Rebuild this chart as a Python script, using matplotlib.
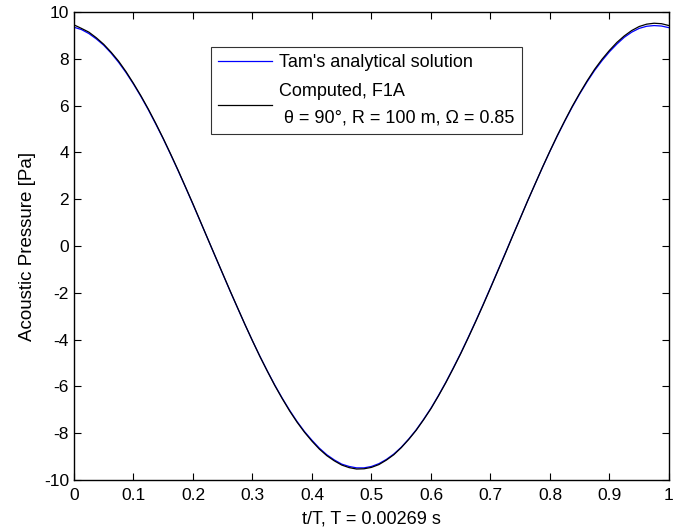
import matplotlib
matplotlib.use("Agg")
import matplotlib.pyplot as plt

plt.rcParams['font.family'] = ['Liberation Sans', 'DejaVu Sans']
plt.rcParams['axes.unicode_minus'] = False

t_vals = [0.0, 0.0125, 0.025, 0.0375, 0.05, 0.0625, 0.075, 0.0875, 0.1, 0.1125,
          0.125, 0.1375, 0.15, 0.1625, 0.175, 0.1875, 0.2, 0.2125, 0.225, 0.2375,
          0.25, 0.2625, 0.275, 0.2875, 0.3, 0.3125, 0.325, 0.3375, 0.35, 0.3625,
          0.375, 0.3875, 0.4, 0.4125, 0.425, 0.4375, 0.45, 0.4625, 0.475, 0.4875,
          0.5, 0.5125, 0.525, 0.5375, 0.55, 0.5625, 0.575, 0.5875, 0.6, 0.6125,
          0.625, 0.6375, 0.65, 0.6625, 0.675, 0.6875, 0.7, 0.7125, 0.725, 0.7375,
          0.75, 0.7625, 0.775, 0.7875, 0.8, 0.8125, 0.825, 0.8375, 0.85, 0.8625,
          0.875, 0.8875, 0.9, 0.9125, 0.925, 0.9375, 0.95, 0.9625, 0.975, 0.9875,
          1.0]

tam_vals = [9.35, 9.25, 9.08, 8.85, 8.58, 8.24, 7.85, 7.41, 6.92, 6.39,
            5.82, 5.21, 4.58, 3.91, 3.22, 2.51, 1.78, 1.04, 0.30, -0.45,
            -1.19, -1.93, -2.65, -3.36, -4.05, -4.71, -5.34, -5.94, -6.50, -7.02,
            -7.50, -7.93, -8.30, -8.64, -8.92, -9.14, -9.32, -9.42, -9.48, -9.48,
            -9.42, -9.30, -9.12, -8.89, -8.60, -8.25, -7.86, -7.41, -6.93, -6.39,
            -5.82, -5.21, -4.58, -3.91, -3.22, -2.51, -1.78, -1.04, -0.30, 0.45,
            1.19, 1.93, 2.65, 3.36, 4.05, 4.71, 5.34, 5.94, 6.50, 7.02,
            7.50, 7.92, 8.30, 8.63, 8.92, 9.14, 9.30, 9.39, 9.42, 9.40,
            9.33]

computed_vals = [9.45, 9.30, 9.14, 8.90, 8.62, 8.28, 7.90, 7.45, 6.95, 6.42,
                 5.85, 5.24, 4.60, 3.93, 3.24, 2.52, 1.80, 1.05, 0.30, -0.44,
                 -1.18, -1.92, -2.64, -3.36, -4.05, -4.72, -5.35, -5.96, -6.52, -7.05,
                 -7.53, -7.96, -8.34, -8.68, -8.96, -9.18, -9.36, -9.47, -9.53, -9.52,
                 -9.46, -9.34, -9.15, -8.92, -8.62, -8.27, -7.88, -7.43, -6.95, -6.41,
                 -5.84, -5.23, -4.60, -3.93, -3.24, -2.53, -1.80, -1.06, -0.32, 0.44,
                 1.18, 1.93, 2.65, 3.37, 4.06, 4.73, 5.36, 5.97, 6.53, 7.06,
                 7.55, 7.98, 8.36, 8.70, 8.98, 9.21, 9.38, 9.48, 9.52, 9.50,
                 9.42]

x_ticks = [0, 0.1, 0.2, 0.3, 0.4, 0.5, 0.6, 0.7, 0.8, 0.9, 1]
x_labels = ['0', '0.1', '0.2', '0.3', '0.4', '0.5', '0.6', '0.7', '0.8', '0.9', '1']
y_ticks = [-10, -8, -6, -4, -2, 0, 2, 4, 6, 8, 10]

fs_tick = 12.5
fs_text = 13

fig = plt.figure(figsize=(6.9, 5.31), dpi=100)
ax = fig.add_axes([0.1072, 0.0960, 0.8623, 0.8814])

ax.plot(t_vals, tam_vals, color='#0000ff', lw=0.9,
        label="Tam's analytical solution")
ax.plot(t_vals, computed_vals, color='black', lw=0.9,
        label="Computed, F1A\n \u03b8 = 90\u00b0, R = 100 m, \u03a9 = 0.85")

ax.set_xlim(0, 1)
ax.set_ylim(-10, 10)
ax.set_xticks(x_ticks)
ax.set_xticklabels(x_labels)
ax.set_yticks(y_ticks)
ax.tick_params(direction='in', top=True, right=True, labelsize=fs_tick,
               length=5, width=0.8)
ax.tick_params(axis='x', pad=5.5)
ax.tick_params(axis='y', pad=3.5)
for s in ax.spines.values():
    s.set_linewidth(1.0)

ax.set_xlabel('t/T, T = 0.00269 s', fontsize=fs_text, labelpad=6)
ax.set_ylabel('Acoustic Pressure [Pa]', fontsize=13.5, labelpad=6)

leg = ax.legend(loc='upper left', bbox_to_anchor=(0.2297, 0.926),
                fontsize=fs_text, frameon=True, fancybox=False,
                edgecolor='black', handlelength=3.0, handletextpad=0.35,
                borderpad=0.42, labelspacing=0.66, borderaxespad=0)
leg.get_frame().set_linewidth(0.8)
leg.get_texts()[1].set_linespacing(1.7)

fig.savefig('out.png', dpi=100)
